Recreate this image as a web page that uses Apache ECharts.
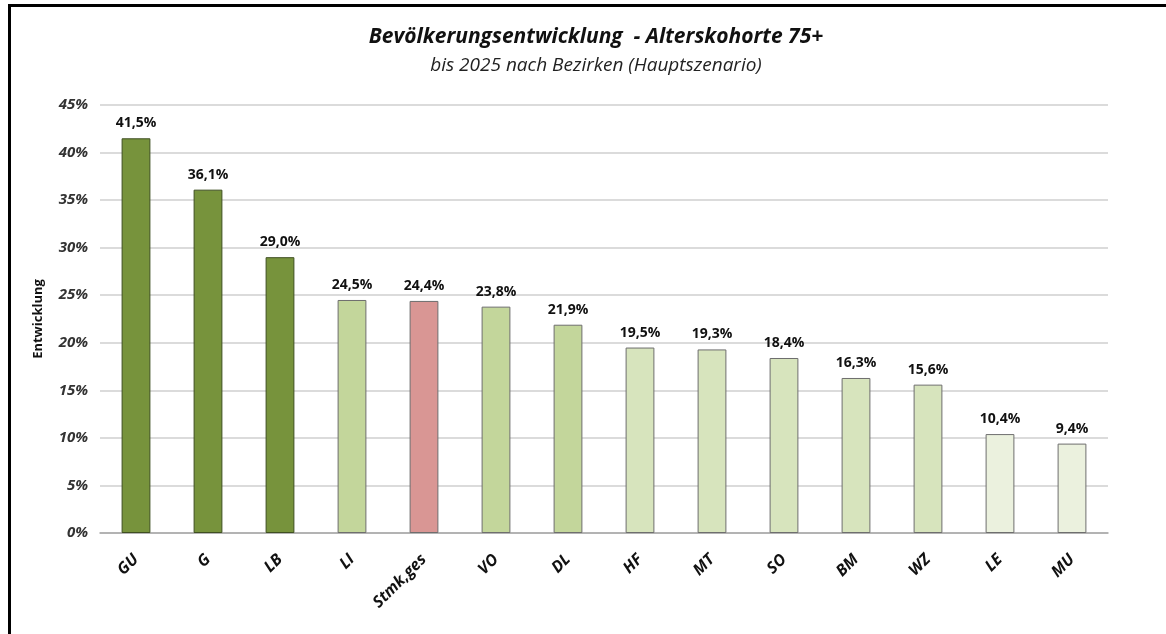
<!DOCTYPE html>
<html>
<head>
<meta charset="utf-8">
<script src="https://cdn.jsdelivr.net/npm/echarts@6/dist/echarts.min.js"></script>
<style>
  html, body { margin:0; padding:0; background:#fff; }
  #frame { position:absolute; left:8px; top:4px; width:1170px; height:640px; border-top:3px solid #000; border-left:3px solid #000; }
  #chart { position:absolute; left:0; top:0; width:1166px; height:634px; }
</style>
</head>
<body>
<div id="frame"></div>
<div id="chart"></div>
<script>
const districts = ['GU', 'G', 'LB', 'LI', 'Stmk,ges', 'VO', 'DL', 'HF', 'MT', 'SO', 'BM', 'WZ', 'LE', 'MU']
const growth = [41.5, 36.1, 29.0, 24.5, 24.4, 23.8, 21.9, 19.5, 19.3, 18.4, 16.3, 15.6, 10.4, 9.4]
const barColors = ['#77933c', '#77933c', '#77933c', '#c3d69b', '#d99694', '#c3d69b', '#c3d69b',
  '#d7e4bd', '#d7e4bd', '#d7e4bd', '#d7e4bd', '#d7e4bd', '#ebf1de', '#ebf1de']
const yTicks = [0, 5, 10, 15, 20, 25, 30, 35, 40, 45]

const chart = echarts.init(document.getElementById('chart'))
const font = '"Open Sans", "DejaVu Sans", sans-serif'

chart.setOption({
  animation: false,
  title: {
    text: 'Bevölkerungsentwicklung  - Alterskohorte 75+',
    subtext: 'bis 2025 nach Bezirken (Hauptszenario)',
    left: 591,
    textAlign: 'center',
    top: 22,
    itemGap: 8,
    textStyle: { fontFamily: font, fontSize: 21, fontWeight: 'bold', fontStyle: 'italic', color: '#111' },
    subtextStyle: { fontFamily: font, fontSize: 19, fontStyle: 'italic', color: '#222' }
  },
  grid: { left: 100, right: 58, top: 105, bottom: 101 },
  xAxis: {
    type: 'category',
    data: districts,
    axisLine: { lineStyle: { color: '#a6a6a6', width: 1.5 } },
    axisTick: { show: false },
    axisLabel: {
      rotate: 45, margin: 24, interval: 0,
      fontFamily: font, fontSize: 16, fontWeight: 'bold', fontStyle: 'italic', color: '#111'
    }
  },
  yAxis: {
    type: 'value',
    min: yTicks[0], max: yTicks[yTicks.length - 1], interval: 5,
    name: 'Entwicklung',
    nameLocation: 'middle',
    nameGap: 55,
    nameTextStyle: { fontFamily: font, fontSize: 13, fontWeight: 'bold', color: '#111' },
    axisLine: { show: false },
    axisTick: { show: false },
    splitLine: { lineStyle: { color: '#cfcfcf', width: 1.5 } },
    axisLabel: {
      formatter: v => v + '%', margin: 12,
      fontFamily: font, fontSize: 15, fontWeight: 'bold', fontStyle: 'italic', color: '#333'
    }
  },
  series: [{
    type: 'bar',
    barWidth: '40%',
    data: growth.map((v, i) => ({
      value: v,
      itemStyle: { color: barColors[i], borderColor: i < 3 ? '#3f4f22' : '#6e6e6e', borderWidth: 1 }
    })),
    label: {
      show: true, position: 'top', distance: 8,
      formatter: p => p.value.toFixed(1).replace('.', ',') + '%',
      fontFamily: font, fontSize: 14, fontWeight: 'bold', color: '#111'
    }
  }]
})
</script>
</body>
</html>
